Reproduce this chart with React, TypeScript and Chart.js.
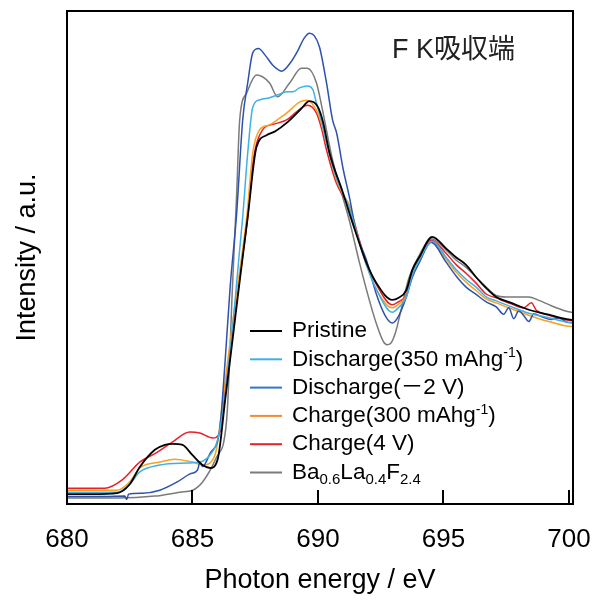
import React, { useEffect, useRef } from 'react';
import { Chart, registerables } from 'chart.js';

Chart.register(...registerables);

// ---------- data ----------
const xTickValues = [680, 685, 690, 695, 700];
const annotationText = 'F K吸収端';
const xTitle = 'Photon energy / eV';
const yTitle = 'Intensity / a.u.';

const pristineE = [680, 681, 682, 682.5, 682.9, 683.5, 683.9, 684.2, 684.6, 685.0, 685.4, 685.7, 686.0, 686.3, 686.6, 686.9, 687.2, 687.55, 687.95, 688.3, 688.75, 689.3, 689.66, 690.0, 690.2, 690.46, 690.97, 691.25, 691.65, 691.93, 692.33, 692.96, 693.2, 693.52, 693.76, 694.04, 694.55, 695.11, 695.51, 695.9, 696.3, 696.7, 697.1, 697.7, 698.4, 699.2, 699.9, 700.2];
const pristineI = [2.0, 2.0, 2.2, 4.0, 7.5, 11.0, 12.0, 12.2, 12.0, 9.9, 7.9, 7.3, 9.0, 21.0, 33.5, 46.0, 58.2, 72.4, 74.8, 75.6, 77.3, 80.0, 81.7, 80.5, 77.5, 71.2, 63.5, 59.0, 52.9, 48.9, 44.8, 41.4, 41.8, 43.4, 47.5, 50.1, 54.2, 51.8, 50.0, 48.5, 46.0, 43.8, 42.0, 40.8, 39.4, 38.4, 37.5, 37.3];

const dis350E = [680, 682.0, 682.5, 682.9, 683.7, 684.77, 685.29, 685.69, 686.0, 686.3, 686.6, 686.85, 687.0, 687.2, 687.4, 687.7, 688.07, 688.4, 688.75, 689.0, 689.26, 689.58, 689.8, 689.94, 690.15, 690.34, 690.74, 691.0, 691.25, 691.65, 691.93, 692.33, 692.96, 693.2, 693.52, 693.76, 694.04, 694.55, 695.11, 695.51, 695.9, 696.3, 696.7, 697.1, 697.7, 698.4, 699.2, 699.9, 700.2];
const dis350I = [2.4, 2.4, 4.0, 6.5, 7.9, 8.3, 8.5, 9.9, 13.0, 22.0, 36.0, 50.0, 58.2, 71.2, 80.5, 82.0, 82.4, 83.0, 83.6, 83.6, 84.4, 84.8, 84.0, 81.3, 77.5, 73.2, 66.0, 63.0, 60.0, 53.0, 48.5, 43.5, 38.9, 39.8, 42.0, 46.5, 49.5, 53.3, 50.0, 47.5, 45.6, 44.0, 42.0, 41.2, 40.0, 38.7, 37.8, 36.9, 36.7];

const dis2VE = [680, 681.5, 682.3, 682.38, 682.45, 683.0, 683.7, 684.4, 684.9, 685.2, 685.3, 685.4, 685.7, 686.08, 686.3, 686.5, 686.76, 687.0, 687.2, 687.4, 687.63, 687.9, 688.2, 688.55, 688.9, 689.2, 689.45, 689.66, 689.85, 690.06, 690.34, 690.58, 690.74, 691.0, 691.25, 691.53, 691.93, 692.33, 692.7, 692.96, 693.2, 693.52, 693.76, 694.04, 694.51, 695.11, 695.51, 695.9, 696.3, 696.7, 697.1, 697.4, 697.6, 697.8, 698.0, 698.2, 698.4, 698.6, 698.9, 699.3, 699.6, 699.9, 700.2];
const dis2VI = [1.5, 1.5, 1.6, 0.9, 2.0, 2.2, 2.8, 4.5, 6.1, 6.9, 8.5, 7.6, 10.3, 15.0, 29.0, 44.0, 59.0, 77.9, 85.4, 91.5, 92.4, 91.0, 89.0, 87.8, 89.5, 92.0, 94.5, 95.5, 95.0, 92.7, 85.4, 77.9, 75.3, 68.0, 62.3, 55.0, 49.5, 42.5, 38.0, 36.7, 38.0, 42.0, 46.0, 49.0, 53.1, 49.0, 46.2, 44.0, 42.5, 41.0, 40.0, 38.5, 39.8, 37.6, 39.2, 38.2, 37.0, 38.6, 38.0, 37.4, 37.8, 36.9, 36.7];

const chg300E = [680, 682.0, 682.5, 682.9, 683.7, 684.29, 685.01, 685.41, 685.9, 686.3, 686.6, 686.9, 687.16, 687.4, 687.67, 688.07, 688.4, 688.75, 689.26, 689.54, 689.94, 690.15, 690.34, 690.74, 691.0, 691.25, 691.65, 691.93, 692.33, 692.96, 693.2, 693.52, 693.76, 694.04, 694.51, 695.11, 695.51, 695.9, 696.3, 696.7, 697.1, 697.7, 698.4, 699.2, 699.9, 700.2];
const chg300I = [2.8, 2.8, 4.5, 7.3, 8.5, 9.1, 8.5, 7.9, 10.0, 25.0, 36.8, 48.0, 58.2, 71.2, 75.9, 76.9, 78.0, 79.3, 81.5, 81.9, 79.9, 77.0, 73.2, 65.7, 62.8, 60.5, 53.0, 48.5, 43.5, 39.8, 40.5, 42.3, 46.5, 49.5, 53.1, 49.6, 47.0, 45.0, 43.3, 41.6, 40.8, 39.6, 38.3, 37.0, 36.1, 36.0];

const chg4VE = [680, 681.5, 682.2, 682.9, 683.6, 684.21, 684.89, 685.29, 685.81, 686.08, 686.3, 686.6, 686.9, 687.2, 687.4, 687.79, 688.2, 688.75, 689.38, 689.58, 689.94, 690.15, 690.34, 690.74, 691.0, 691.25, 691.65, 691.93, 692.33, 692.96, 693.2, 693.52, 693.76, 694.04, 694.51, 695.11, 695.51, 695.9, 696.3, 696.7, 697.1, 697.7, 698.2, 698.5, 698.7, 699.2, 699.9, 700.2];
const chg4VI = [3.2, 3.2, 4.9, 8.5, 10.5, 12.6, 14.6, 14.4, 13.4, 14.4, 23.0, 34.9, 46.7, 58.2, 69.0, 75.9, 77.0, 77.9, 80.5, 80.9, 79.3, 76.0, 71.8, 65.0, 62.5, 60.5, 53.5, 49.0, 44.5, 40.4, 41.0, 42.5, 47.0, 49.8, 53.5, 50.8, 48.5, 46.8, 44.8, 42.6, 41.8, 40.6, 39.8, 40.8, 39.3, 38.3, 37.3, 37.1];

const refE = [680, 682.0, 683.5, 684.5, 685.01, 685.41, 685.96, 686.36, 686.6, 686.76, 686.88, 687.16, 687.55, 688.07, 688.39, 688.87, 689.34, 689.58, 689.94, 690.18, 690.58, 691.0, 691.25, 691.65, 691.93, 692.33, 692.6, 692.75, 692.9, 693.1, 693.36, 693.6, 694.04, 694.51, 695.11, 695.5, 695.9, 696.3, 696.7, 697.1, 697.5, 698.0, 698.4, 698.8, 699.3, 699.9, 700.2];
const refI = [1.2, 1.2, 1.6, 2.4, 2.8, 4.5, 9.5, 17.0, 45.0, 63.0, 77.9, 83.4, 87.0, 85.4, 82.6, 85.4, 88.4, 88.4, 85.4, 79.9, 69.8, 62.0, 57.5, 49.0, 43.5, 36.5, 33.0, 32.3, 32.6, 35.0, 40.5, 45.5, 50.5, 53.8, 51.5, 49.5, 48.0, 46.0, 44.0, 42.3, 42.0, 42.0, 42.0, 41.3, 40.2, 39.1, 38.8];

type Seg = { t: string; k?: 'sup' | 'sub' };
const seriesLabels: Seg[][] = [
  [{ t: 'Pristine' }],
  [{ t: 'Discharge(350 mAhg' }, { t: '-1', k: 'sup' }, { t: ')' }],
  [{ t: 'Discharge(' }, { t: '－' }, { t: '2 V)' }],
  [{ t: 'Charge(300 mAhg' }, { t: '-1', k: 'sup' }, { t: ')' }],
  [{ t: 'Charge(4 V)' }],
  [{ t: 'Ba' }, { t: '0.6', k: 'sub' }, { t: 'La' }, { t: '0.4', k: 'sub' }, { t: 'F' }, { t: '2.4', k: 'sub' }],
];
const seriesColors = ['#000000', '#3fb0e6', '#2c52ae', '#f9a01e', '#e8202a', '#7a7a7a'];
const seriesE = [pristineE, dis350E, dis2VE, chg300E, chg4VE, refE];
const seriesI = [pristineI, dis350I, dis2VI, chg300I, chg4VI, refI];
const legendLineColors = ['#000000', '#3fb0e6', '#2e78c8', '#f58a30', '#e8202a', '#7a7a7a'];

const FONT = "'Liberation Sans', Arial, 'Noto Sans CJK JP', sans-serif";

const framePlugin = {
  id: 'frameTicks',
  afterDatasetsDraw(chart: any) {
    const { ctx, chartArea: a, scales } = chart;
    const x = scales.x;
    ctx.save();
    ctx.strokeStyle = '#000';
    ctx.lineWidth = 2;
    ctx.strokeRect(a.left, a.top, a.right - a.left, a.bottom - a.top);
    ctx.beginPath();
    for (const v of xTickValues) {
      if (v === 680) continue;
      const px = Math.round(x.getPixelForValue(v));
      ctx.moveTo(px, a.bottom);
      ctx.lineTo(px, a.bottom - 14);
    }
    ctx.stroke();
    ctx.restore();
  },
};

const annotationPlugin = {
  id: 'annot',
  afterDraw(chart: any) {
    const { ctx, chartArea: a } = chart;
    ctx.save();
    ctx.fillStyle = '#222';
    ctx.font = `27px ${FONT}`;
    ctx.textBaseline = 'alphabetic';
    ctx.textAlign = 'left';
    ctx.fillText(annotationText, a.left + 325, a.top + 47);
    ctx.restore();
  },
};

const legendPlugin = {
  id: 'richLegend',
  afterDraw(chart: any) {
    const { ctx, chartArea: a } = chart;
    const x0 = a.left + 183;
    const y0 = a.top + 320;
    const rowH = 28.3;
    ctx.save();
    ctx.textBaseline = 'middle';
    ctx.textAlign = 'left';
    seriesLabels.forEach((segs, i) => {
      const y = y0 + i * rowH;
      ctx.strokeStyle = legendLineColors[i];
      ctx.lineWidth = 2;
      ctx.beginPath();
      ctx.moveTo(x0, y);
      ctx.lineTo(x0 + 32, y);
      ctx.stroke();
      let tx = x0 + 42;
      ctx.fillStyle = '#000';
      for (const s of segs) {
        if (s.k === 'sup') {
          ctx.font = `14px ${FONT}`;
          ctx.fillText(s.t, tx, y - 6);
        } else if (s.k === 'sub') {
          ctx.font = `15px ${FONT}`;
          ctx.fillText(s.t, tx, y + 7);
        } else {
          ctx.font = `22.5px ${FONT}`;
          ctx.fillText(s.t, tx, y);
        }
        tx += ctx.measureText(s.t).width;
      }
    });
    ctx.restore();
  },
};

export default function App() {
  const ref = useRef<HTMLCanvasElement | null>(null);
  useEffect(() => {
    if (!ref.current) return;
    const datasets = seriesLabels.map((_, i) => ({
      label: seriesLabels[i].map((s) => s.t).join(''),
      data: seriesE[i].map((e, j) => ({ x: e, y: seriesI[i][j] })),
      borderColor: seriesColors[i],
      backgroundColor: seriesColors[i],
      borderWidth: i === 0 ? 1.8 : 1.5,
      pointRadius: 0,
      cubicInterpolationMode: 'monotone' as const,
      fill: false,
    }));
    const chart = new Chart(ref.current, {
      type: 'line',
      data: { datasets },
      options: {
        animation: false,
        responsive: true,
        maintainAspectRatio: false,
        layout: { padding: { top: 11, right: 25, left: 0, bottom: 0 } },
        plugins: { legend: { display: false }, tooltip: { enabled: false } },
        scales: {
          x: {
            type: 'linear',
            min: 680,
            max: 700.16,
            grid: { display: false, drawTicks: false },
            border: { display: false },
            afterFit: (s: any) => { s.height = 97; s.paddingLeft = 0; s.paddingRight = 0; },
            afterBuildTicks: (s: any) => { s.ticks = xTickValues.map((v) => ({ value: v })); },
            ticks: {
              padding: 20,
              color: '#000',
              font: { family: FONT, size: 26 },
              maxRotation: 0,
              autoSkip: false,
              callback: (v: any) => String(v),
            },
            title: {
              display: true,
              text: xTitle,
              color: '#000',
              font: { family: FONT, size: 27 },
              padding: { top: 0, bottom: 4 },
            },
          },
          y: {
            min: 0,
            max: 100,
            grid: { display: false, drawTicks: false },
            border: { display: false },
            ticks: { display: false },
            afterFit: (s: any) => { s.width = 67; },
            title: {
              display: true,
              text: yTitle,
              color: '#000',
              font: { family: FONT, size: 27 },
              padding: { top: 11, bottom: 0 },
            },
          },
        },
      },
      plugins: [framePlugin, annotationPlugin, legendPlugin],
    });
    return () => chart.destroy();
  }, []);
  return (
    <div style={{ position: 'fixed', left: 0, top: 0, width: 598, height: 601, background: '#fff' }}>
      <canvas ref={ref} />
    </div>
  );
}
